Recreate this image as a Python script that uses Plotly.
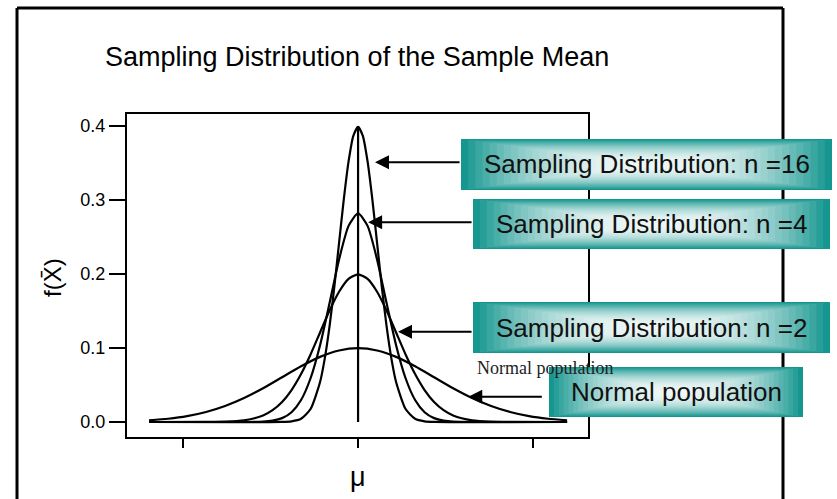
import plotly.graph_objects as go

W, H = 837, 499

# ---------------- data ----------------
mu = 0
# n = 16 sampling distribution
x_n16 = [-11, -4, -3.5, -3, -2.5, -2, -1.75, -1.5, -1.25, -1, -0.75, -0.5, -0.25, 0,
         0.25, 0.5, 0.75, 1, 1.25, 1.5, 1.75, 2, 2.5, 3, 3.5, 4, 11]
y_n16 = [0, 0.0001, 0.0009, 0.0044, 0.0175, 0.0540, 0.0863, 0.1295, 0.1826, 0.2420, 0.3011, 0.3521, 0.3867, 0.3989,
         0.3867, 0.3521, 0.3011, 0.2420, 0.1826, 0.1295, 0.0863, 0.0540, 0.0175, 0.0044, 0.0009, 0.0001, 0]
# n = 4 sampling distribution
x_n4 = [-11, -6, -5, -4.5, -4, -3.5, -3, -2.5, -2, -1.5, -1, -0.5, 0,
        0.5, 1, 1.5, 2, 2.5, 3, 3.5, 4, 4.5, 5, 6, 11]
y_n4 = [0, 0, 0.0005, 0.0018, 0.0052, 0.0132, 0.0297, 0.0591, 0.1038, 0.1607, 0.2197, 0.2650, 0.2821,
        0.2650, 0.2197, 0.1607, 0.1038, 0.0591, 0.0297, 0.0132, 0.0052, 0.0018, 0.0005, 0, 0]
# n = 2 sampling distribution
x_n2 = [-11, -8, -7, -6, -5, -4.5, -4, -3.5, -3, -2.5, -2, -1.5, -1, -0.5, 0,
        0.5, 1, 1.5, 2, 2.5, 3, 3.5, 4, 4.5, 5, 6, 7, 8, 11]
y_n2 = [0, 0.0001, 0.0004, 0.0022, 0.0088, 0.0159, 0.0270, 0.0432, 0.0648, 0.0913, 0.1210, 0.1506, 0.1760, 0.1933, 0.1995,
        0.1933, 0.1760, 0.1506, 0.1210, 0.0913, 0.0648, 0.0432, 0.0270, 0.0159, 0.0088, 0.0022, 0.0004, 0.0001, 0]
# normal population
x_pop = [-11, -10, -9, -8, -7, -6, -5, -4, -3, -2, -1, 0, 1, 2, 3, 4, 5, 6, 7, 8, 9, 10, 11]
y_pop = [0.0023, 0.0044, 0.0079, 0.0135, 0.0216, 0.0324, 0.0456, 0.0605, 0.0753, 0.0880, 0.0966, 0.0997,
         0.0966, 0.0880, 0.0753, 0.0605, 0.0456, 0.0324, 0.0216, 0.0135, 0.0079, 0.0044, 0.0023]

y_ticks = [0.0, 0.1, 0.2, 0.3, 0.4]
x_ticks = [-9.2, 0, 9.2]

labels = ["Sampling Distribution: n =16", "Sampling Distribution: n =4",
          "Sampling Distribution: n =2", "Normal population"]
# arrow tip (data coords) and tail x (data coords)
arrow_tip_x = [0.89, 0.53, 2.1, 5.8]
arrow_tip_y = [0.351, 0.270, 0.122, 0.034]
arrow_tail_x = [5.42, 6.05, 6.05, 9.75]

# label boxes in pixels (x0, y0, x1, y1)
boxes = [(461, 139, 832, 190), (473, 199, 830, 249), (473, 302, 830, 353), (549, 367, 803, 417)]

FONT = "Arial, Liberation Sans, sans-serif"

fig = go.Figure()
line = dict(color="black", width=2.2, shape="spline", smoothing=0.6)
for xs, ys in [(x_pop, y_pop), (x_n2, y_n2), (x_n4, y_n4), (x_n16, y_n16)]:
    fig.add_trace(go.Scatter(x=xs, y=ys, mode="lines", line=line, hoverinfo="skip", showlegend=False))
fig.add_trace(go.Scatter(x=[mu, mu], y=[0, max(y_n16)], mode="lines",
                         line=dict(color="black", width=2.2), hoverinfo="skip", showlegend=False))

def px(x):
    return x / W

def py(y):
    return 1 - y / H

shapes = []
# outer frame (open at bottom)
for (x0, y0, x1, y1) in [(17, 8, 17, H + 5), (17, 8, 783, 8), (783, 8, 783, H + 5)]:
    shapes.append(dict(type="line", xref="paper", yref="paper", x0=px(x0), y0=py(y0), x1=px(x1), y1=py(y1),
                       line=dict(color="black", width=3), layer="below"))

# gradient label boxes (nested rectangles)
teal = (22, 150, 144)
light = (238, 247, 246)
N = 26
for (x0, y0, x1, y1) in boxes:
    cx, cy = (x0 + x1) / 2, (y0 + y1) / 2
    hw, hh = (x1 - x0) / 2, (y1 - y0) / 2
    for k in range(N):
        t = 1 - k / N
        m = t ** 2.2
        col = tuple(round(light[i] + (teal[i] - light[i]) * m) for i in range(3))
        shapes.append(dict(type="rect", xref="paper", yref="paper",
                           x0=px(cx - hw * t), x1=px(cx + hw * t),
                           y0=py(cy + hh * t), y1=py(cy - hh * t),
                           fillcolor="rgb(%d,%d,%d)" % col, line=dict(width=0), layer="above"))

annotations = []
for (x0, y0, x1, y1), lab in zip(boxes, labels):
    annotations.append(dict(x=px((x0 + x1) / 2), y=py((y0 + y1) / 2), xref="paper", yref="paper",
                            text=lab, showarrow=False, font=dict(family=FONT, size=26, color="#111111"),
                            xanchor="center", yanchor="middle"))
for tx, ty, ax in zip(arrow_tip_x, arrow_tip_y, arrow_tail_x):
    annotations.append(dict(x=tx, y=ty, xref="x", yref="y", ax=ax, ay=ty, axref="x", ayref="y",
                            text="", showarrow=True, arrowhead=2, arrowsize=1.4, arrowwidth=2,
                            arrowcolor="black", standoff=0))
# small serif text
annotations.append(dict(x=px(475), y=py(368), xref="paper", yref="paper", text="Normal population",
                        showarrow=False, xanchor="left", yanchor="middle",
                        font=dict(family="Times New Roman, Liberation Serif, serif", size=18, color="#222222")))
# axis labels
annotations.append(dict(x=mu, y=py(477), xref="x", yref="paper", text="μ", showarrow=False,
                        xanchor="center", yanchor="middle", font=dict(family=FONT, size=27, color="black")))
annotations.append(dict(x=px(52), y=py(278), xref="paper", yref="paper", text="f(X\u0304)", showarrow=False,
                        textangle=-90, xanchor="center", yanchor="middle",
                        font=dict(family=FONT, size=24, color="black")))

fig.update_layout(
    width=W, height=H,
    margin=dict(l=0, r=0, t=0, b=0),
    paper_bgcolor="white", plot_bgcolor="white",
    title=dict(text="Sampling Distribution of the Sample Mean", x=px(105), xanchor="left",
               y=py(57), yanchor="middle", font=dict(family=FONT, size=27, color="black")),
    xaxis=dict(domain=[px(127), px(588)], range=[-12.16, 12.1], showgrid=False, zeroline=False,
               tickvals=x_ticks, showticklabels=False, ticks="outside", ticklen=9, tickwidth=2,
               tickcolor="black", showline=True, linecolor="black", linewidth=2, mirror=True,
               automargin=False, fixedrange=True),
    yaxis=dict(domain=[py(437), py(114)], range=[-0.0203, 0.4162], showgrid=False, zeroline=False,
               tickvals=y_ticks, tickformat=".1f", ticks="outside", ticklen=16, tickwidth=2,
               tickcolor="black", showline=True, linecolor="black", linewidth=2, mirror=True,
               tickfont=dict(family=FONT, size=18, color="black"), automargin=False, fixedrange=True),
    shapes=shapes,
    annotations=annotations,
)

fig.write_html("out.html")
